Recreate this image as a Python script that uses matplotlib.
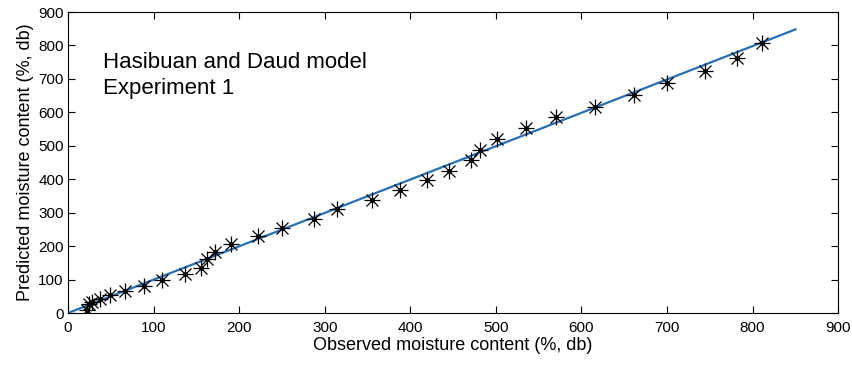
import numpy as np
import matplotlib

matplotlib.use("Agg")
import matplotlib.pyplot as plt

plt.rcParams["font.family"] = ["Liberation Sans", "DejaVu Sans"]

# observed vs predicted moisture content (%, db)
observed = [22, 24, 28, 37, 49, 67, 89, 110, 137, 156, 162, 172, 191, 222, 250,
            288, 314, 355, 388, 420, 445, 471, 481, 501, 535, 570, 616, 661, 700,
            744, 782, 811]
predicted = [10, 27, 34, 41, 53, 66, 80, 100, 116, 136, 160, 183, 206, 229, 254,
             281, 310, 337, 367, 397, 425, 458, 488, 520, 553, 585, 617, 652, 689,
             724, 762, 807]
fit_x = [0, 850]
fit_y = [0, 848]

fig = plt.figure(figsize=(8.52, 3.66), dpi=100)
ax = fig.add_axes([0.0798, 0.1448, 0.904, 0.8224])

ax.plot(fit_x, fit_y, color="#2470b8", lw=1.6, zorder=2)
ax.plot(observed, predicted, ls="none", marker="+", ms=11, mew=0.9, color="black", zorder=3)
ax.plot(observed, predicted, ls="none", marker="x", ms=8, mew=0.9, color="black", zorder=3)
ax.plot(observed, predicted, ls="none", marker="o", ms=2.5, color="black", zorder=3)

ax.set_xlim(0, 900)
ax.set_ylim(0, 900)
ax.set_xticks(np.arange(0, 901, 100))
ax.set_yticks(np.arange(0, 901, 100))
ax.tick_params(direction="in", top=True, right=True, length=5, width=0.8, labelsize=11)
ax.tick_params(axis="x", pad=6)
ax.tick_params(axis="y", pad=3)
for s in ax.spines.values():
    s.set_linewidth(0.8)

ax.set_xlabel("Observed moisture content (%, db)", fontsize=13, labelpad=1)
ax.set_ylabel("Predicted moisture content (%, db)", fontsize=13, labelpad=3)

ax.text(0.045, 0.79, "Hasibuan and Daud model\nExperiment 1", transform=ax.transAxes,
        fontsize=16, va="center", ha="left", linespacing=1.3)

fig.savefig("out.png", dpi=100)
